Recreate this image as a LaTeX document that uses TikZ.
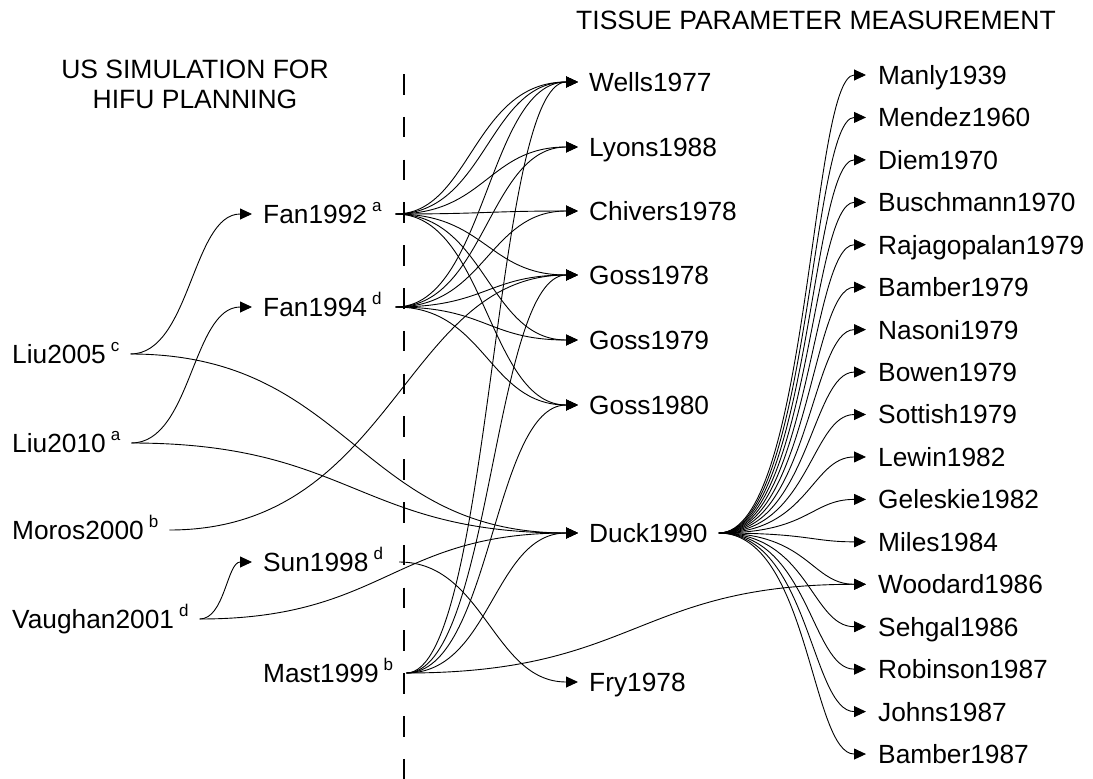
\documentclass[tikz,border=0pt]{standalone}
\usepackage{fontspec}
\setmainfont{Liberation Sans}
\usetikzlibrary{arrows.meta}
\newcommand\supl[1]{\hspace{5pt}\raisebox{11.5pt}{\fontsize{17}{17}\selectfont #1}}
\begin{document}
\begin{tikzpicture}[x=1pt,y=-1pt,
  lbl/.style={font=\fontsize{26.3}{30}\selectfont, anchor=west, inner xsep=11pt, inner ysep=0pt, text height=18.8pt, text depth=0pt},
  rlbl/.style={lbl, inner xsep=12pt},
  hdr/.style={font=\fontsize{26.5}{30}\selectfont, inner sep=0pt},
  conn/.style={line width=0.9pt},
  arr/.style={conn, -{Triangle[length=12pt,width=11pt]}},
  divider/.style={line width=2.8pt, dash pattern=on 20.5pt off 22.3pt}
]
\useasboundingbox (0,0) rectangle (1093,779);
% headers
\node[hdr, anchor=base] (h1a) at (195,78) {US SIMULATION FOR};
\node[hdr, anchor=base] (h1b) at (195,108) {HIFU PLANNING};
\node[hdr, anchor=base west] (h2) at (576,30) {TISSUE PARAMETER MEASUREMENT};
% divider
\draw[divider] (404,74) -- (404,779);
% left column
\node[lbl] (liu05) at (1,354) {Liu2005\supl{c}};
\node[lbl] (liu10) at (1,443) {Liu2010\supl{a}};
\node[lbl] (moros) at (1,530) {Moros2000\supl{b}};
\node[lbl] (vaughan) at (1,619) {Vaughan2001\supl{d}};
% simulation column
\node[lbl] (fan92) at (252,214) {Fan1992\supl{a}};
\node[lbl] (fan94) at (252,307) {Fan1994\supl{d}};
\node[lbl] (sun) at (252,562) {Sun1998\supl{d}};
\node[lbl] (mast) at (252,673) {Mast1999\supl{b}};
% middle column
\node[lbl] (wells) at (578,82) {Wells1977};
\node[lbl] (lyons) at (578,147) {Lyons1988};
\node[lbl] (chivers) at (578,211) {Chivers1978};
\node[lbl] (goss78) at (578,275) {Goss1978};
\node[lbl] (goss79) at (578,340) {Goss1979};
\node[lbl] (goss80) at (578,405) {Goss1980};
\node[lbl] (duck) at (578,533) {Duck1990};
\node[lbl] (fry) at (578,682) {Fry1978};
% right column
\foreach \n/\t [count=\i from 0] in {manly/Manly1939, mendez/Mendez1960, diem/Diem1970, busch/Buschmann1970, raja/Rajagopalan1979, bamb79/Bamber1979, nasoni/Nasoni1979, bowen/Bowen1979, sott/Sottish1979, lewin/Lewin1982, geles/Geleskie1982, miles/Miles1984, wood/Woodard1986, sehgal/Sehgal1986, robin/Robinson1987, johns/Johns1987, bamb87/Bamber1987}
  \node[rlbl] (\n) at (866,{75+42.44*\i}) {\t};
% left edges
\draw[arr] (liu05.east) .. controls +(60,0) and +(-60,0) .. (fan92.west);
\draw[arr] (liu05.east) .. controls +(220,0) and +(-220,0) .. (duck.west);
\draw[arr] (liu10.east) .. controls +(60,0) and +(-60,0) .. (fan94.west);
\draw[arr] (liu10.east) .. controls +(220,0) and +(-220,0) .. (duck.west);
\draw[arr] (moros.east) .. controls +(225,0) and +(-175,0) .. (goss78.west);
\draw[arr] (vaughan.east) .. controls +(25,0) and +(-25,0) .. (sun.west);
\draw[arr] (vaughan.east) .. controls +(185,0) and +(-185,0) .. (duck.west);
% simulation edges
\foreach \t in {wells,lyons,chivers,goss78,goss79,goss80}
  \draw[arr] ([xshift=3pt]fan92.east) .. controls +(90,0) and +(-90,0) .. (\t.west);
\draw[arr] ([xshift=3pt]fan92.east) .. controls +(75,0) and +(-105,0) .. (wells.west);
\foreach \t in {wells,lyons,chivers,goss78,goss79,goss80}
  \draw[arr] ([xshift=3pt]fan94.east) .. controls +(90,0) and +(-90,0) .. (\t.west);
\draw[arr] ([xshift=5pt]sun.east) .. controls +(85,0) and +(-85,0) .. (fry.west);
\foreach \t in {wells,goss78,goss80,duck}
  \draw[arr] ([xshift=2pt]mast.east) .. controls +(85,0) and +(-85,0) .. (\t.west);
\draw[arr] ([xshift=2pt]mast.east) .. controls +(230,0) and +(-230,0) .. (wood.west);
% Duck fan
\foreach \n in {manly,mendez,diem,busch,raja,bamb79,nasoni,bowen,sott,lewin,geles,miles,wood,sehgal,robin,johns,bamb87}
  \draw[arr] (duck.east) .. controls +(90,0) and +(-55,0) .. (\n.west);
\end{tikzpicture}
\end{document}
